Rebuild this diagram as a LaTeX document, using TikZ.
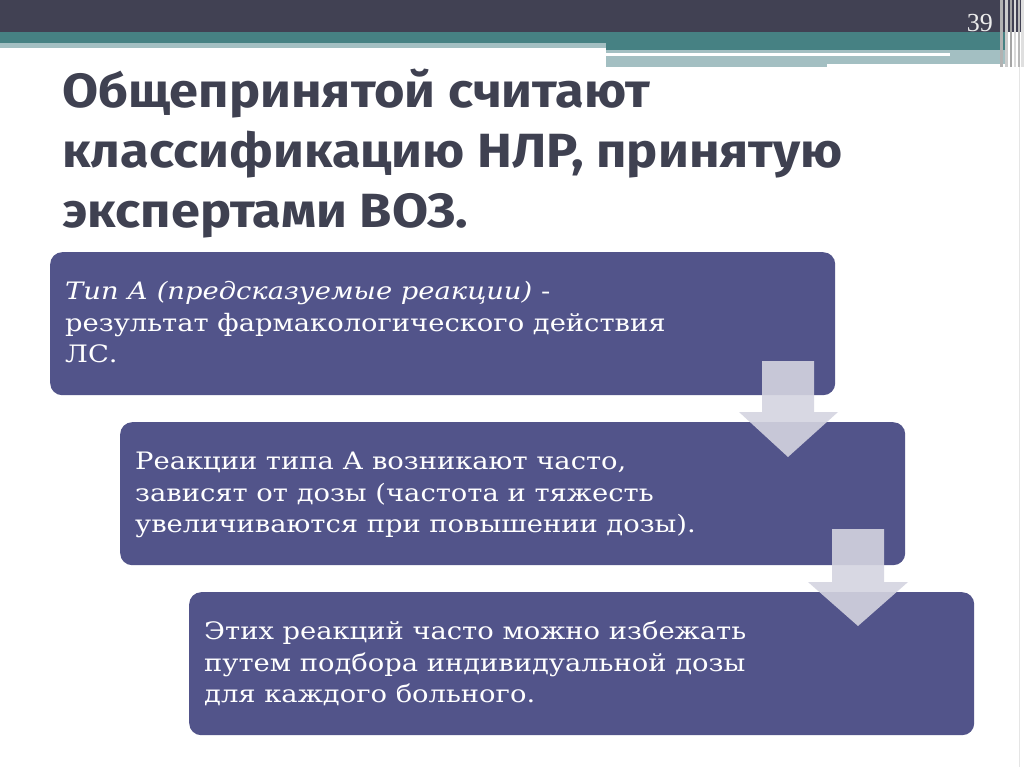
\documentclass[tikz,border=0pt]{standalone}
\usepackage{fontspec}
\setmainfont{DejaVu Serif}[FakeStretch=1.14]
\newfontfamily\titlefont{Fira Sans}[FakeStretch=1.09]
\newfontfamily\numfont{Liberation Serif}
\definecolor{darkband}{HTML}{414153}
\definecolor{tealband}{HTML}{468183}
\definecolor{lightteal}{HTML}{A3BFC2}
\definecolor{boxfill}{HTML}{52548A}
\definecolor{arrowfill}{HTML}{D4D4E0}
\definecolor{titlegray}{HTML}{3F4151}
\tikzset{
  box/.style={draw=none, fill=boxfill, rounded corners=12pt, minimum width=785pt, minimum height=143pt, inner sep=0pt, anchor=north west},
  boxtext/.style={text=white, anchor=base west, align=left, inner sep=0pt, font=\fontsize{24}{31.5}\selectfont},
  blockarrow/.style={fill=arrowfill, fill opacity=0.9, draw=none},
  titletext/.style={text=titlegray, anchor=base west, align=left, inner sep=0pt, font=\titlefont\bfseries\fontsize{48}{59.5}\selectfont}
}
\begin{document}
\begin{tikzpicture}[x=1pt,y=-1pt]
\useasboundingbox (0,0) rectangle (1024,767);
\fill[white] (0,0) rectangle (1024,767);
% top bands
\fill[darkband] (0,0) rectangle (1024,32);
\fill[tealband] (0,32) rectangle (1005,43);
\fill[lightteal] (0,43) rectangle (606,48);
\fill[tealband] (606,43) rectangle (1005,50);
\fill[lightteal] (606,50) rectangle (1005,67);
\fill[white] (606,53) rectangle (950,56);
\fill[white] (827,64.5) rectangle (1005,67);
% right edge stripes
\fill[gray!60] (1000,0) rectangle (1003,67);
\fill[gray!40] (1005,0) rectangle (1008,67);
\fill[gray!70] (1010,0) rectangle (1012,67);
\fill[gray!30] (1014,0) rectangle (1016,67);
\fill[gray!55] (1018,0) rectangle (1020,67);
\fill[gray!25] (1021,0) rectangle (1024,67);
\draw[gray!20, line width=0.8pt] (1019,67) -- (1019,767);
\node[text=white!85!gray, anchor=base east, inner sep=0pt, font=\numfont\fontsize{26}{26}\selectfont] (num) at (993,32) {39};
% title (base anchor = last line baseline)
\node[titletext] (title) at (62,227) {Общепринятой считают\\классификацию НЛР, принятую\\экспертами ВОЗ.};
% boxes
\node[box] (b1) at (50,252) {};
\node[box] (b2) at (120,422) {};
\node[box] (b3) at (189,592) {};
\node[boxtext] (t1) at ([xshift=15pt,yshift=-110.5pt]b1.north west) {\textit{Тип А (предсказуемые реакции)} -\\результат фармакологического действия\\ЛС.};
\node[boxtext] (t2) at ([xshift=15pt,yshift=-110.5pt]b2.north west) {Реакции типа А возникают часто,\\зависят от дозы (частота и тяжесть\\увеличиваются при повышении дозы).};
\node[boxtext] (t3) at ([xshift=15pt,yshift=-110.5pt]b3.north west) {Этих реакций часто можно избежать\\путем подбора индивидуальной дозы\\для каждого больного.};
% block arrows
\coordinate (a1) at (788,361);
\fill[blockarrow] (762,361) -- (814,361) -- (814,412) -- (838,412) -- (788,457) -- (739,412) -- (762,412) -- cycle;
\coordinate (a2) at (858,529);
\fill[blockarrow] (832,529) -- (884,529) -- (884,582) -- (908,582) -- (858,626) -- (808,582) -- (832,582) -- cycle;
\end{tikzpicture}
\end{document}
